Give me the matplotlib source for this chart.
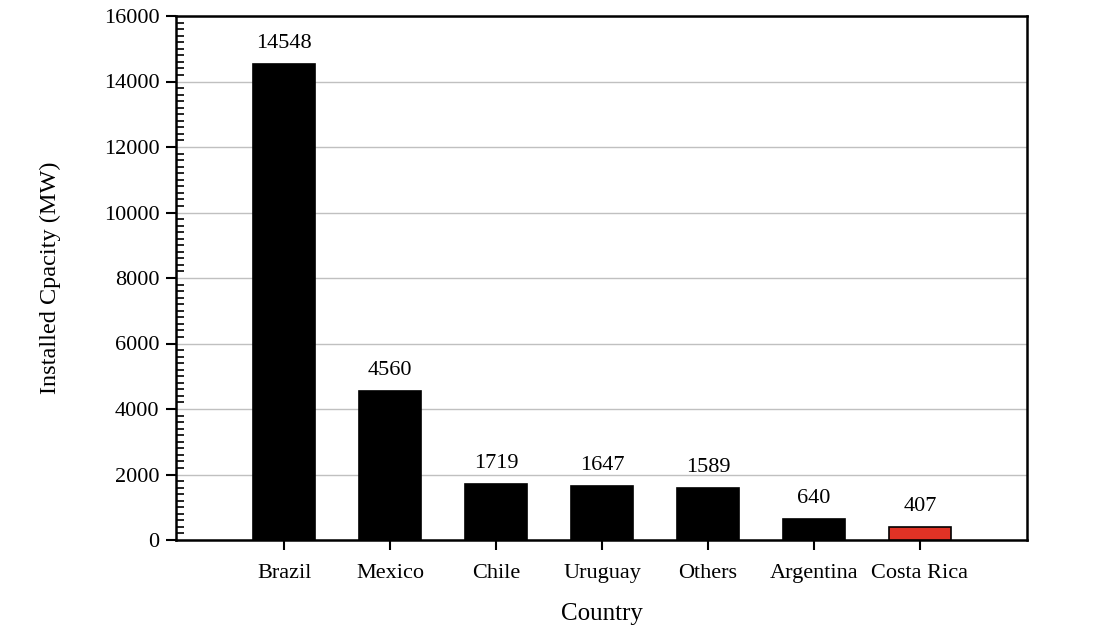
import numpy as np
import matplotlib
matplotlib.use("Agg")
import matplotlib.pyplot as plt
from matplotlib.ticker import MultipleLocator

countries = ["Brazil", "Mexico", "Chile", "Uruguay", "Others", "Argentina", "Costa Rica"]
capacity = [14548, 4560, 1719, 1647, 1589, 640, 407]
bar_colors = ["black"] * 6 + ["#e03225"]

plt.rcParams["font.family"] = ["Liberation Serif", "DejaVu Serif"]

fig = plt.figure(figsize=(10.95, 6.27), dpi=100)
ax = fig.add_axes([176 / 1095, 1 - 540 / 627, (1027 - 176) / 1095, (540 - 16) / 627])

x = np.arange(len(countries))
ax.bar(x, capacity, width=0.58, color=bar_colors, edgecolor="black", linewidth=1.2, zorder=3)
for xi, v in zip(x, capacity):
    ax.text(xi, v + 330, str(v), ha="center", va="bottom", fontsize=16)

ax.set_xlim(-1.02, 7.01)
ax.set_ylim(0, 16000)
ax.set_xticks(x)
ax.set_xticklabels(countries, fontsize=16)
ax.yaxis.set_major_locator(MultipleLocator(2000))
ax.yaxis.set_minor_locator(MultipleLocator(200))
ax.tick_params(axis="y", which="major", direction="out", length=7, width=1.5, labelsize=16, pad=5)
ax.tick_params(axis="y", which="minor", direction="in", length=6, width=1.2)
ax.tick_params(axis="x", which="major", direction="out", length=7, width=1.5, pad=10)
ax.grid(axis="y", color="#c0c0c0", linewidth=1, zorder=0)
for s in ax.spines.values():
    s.set_linewidth(1.8)

ax.set_xlabel("Country", fontsize=18, labelpad=15)
ax.set_ylabel("Installed Cpacity (MW)", fontsize=17.5, labelpad=31)

fig.savefig("out.png", dpi=100)
